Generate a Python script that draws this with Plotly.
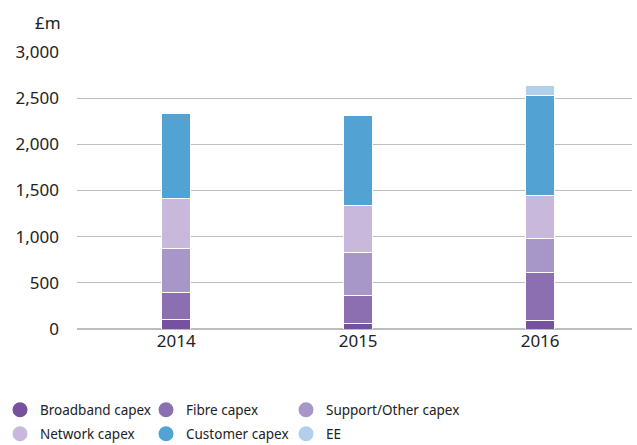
import plotly.graph_objects as go

years = ["2014", "2015", "2016"]
broadband = [106, 63, 92]
fibre = [288, 302, 521]
support = [479, 461, 372]
network = [544, 511, 464]
customer = [921, 979, 1083]
ee = [0, 0, 108]

series = [
    ("Broadband capex", broadband, "#7651a0"),
    ("Fibre capex", fibre, "#8c6fb0"),
    ("Support/Other capex", support, "#a796c8"),
    ("Network capex", network, "#c8b8dc"),
    ("Customer capex", customer, "#52a2d4"),
    ("EE", ee, "#b2cfec"),
]

# legend grid: 3 columns x 2 rows, one legend box per entry
col_x = [0, 146, 286]
row_y = [410, 434]

fig = go.Figure()
for name, vals, col in series:
    fig.add_trace(go.Bar(
        x=years, y=vals, name=name, width=0.16,
        marker=dict(color=col, line=dict(color="white", width=1)),
        showlegend=False,
    ))

legends = {}
for i, (name, vals, col) in enumerate(series):
    key = "legend" if i == 0 else f"legend{i + 1}"
    fig.add_trace(go.Scatter(
        x=[None], y=[None], mode="markers", name=name,
        marker=dict(color=col, size=15, symbol="circle"),
        legend=key,
    ))
    legends[key] = dict(orientation="h", xref="container", yref="container",
                        x=col_x[i % 3] / 637, y=1 - row_y[i // 3] / 445,
                        xanchor="left", yanchor="middle",
                        font=dict(size=13.5, color="#222"),
                        itemsizing="trace", bgcolor="rgba(0,0,0,0)")

fig.update_layout(
    width=637, height=445,
    barmode="stack",
    paper_bgcolor="white", plot_bgcolor="white",
    margin=dict(l=77, r=5, t=52, b=116, autoexpand=False),
    font=dict(family="Noto Sans", size=17, color="#222"),
    xaxis=dict(type="category", range=[-0.545, 2.505], showgrid=False,
               ticks="", tickfont=dict(size=17)),
    yaxis=dict(range=[0, 3000], tickvals=[0, 500, 1000, 1500, 2000, 2500, 3000],
               tickformat=",", showgrid=True, gridcolor="#bdbdbd", gridwidth=1,
               zeroline=True, zerolinecolor="#bdbdbd", zerolinewidth=1.5,
               ticks="", ticklabelstandoff=17, tickfont=dict(size=17)),
    showlegend=True,
    annotations=[dict(text="£m", xref="paper", yref="paper",
                      x=-0.025, y=1.105, xanchor="right", yanchor="middle",
                      showarrow=False, font=dict(size=17))],
    **legends,
)
# page body has a default margin; remove it so the figure sits at 0,0
fig.write_html("out.html", config={"displayModeBar": False},
               post_script="document.body.style.margin='0';")
